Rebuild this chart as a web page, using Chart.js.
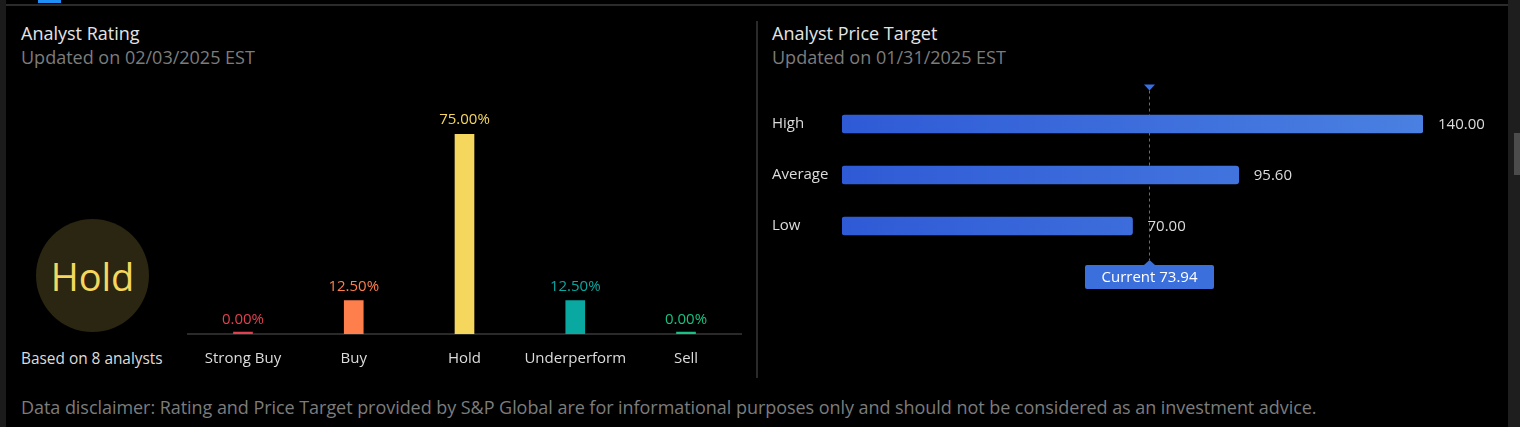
<!DOCTYPE html>
<html>
<head>
<meta charset="utf-8">
<script src="https://cdn.jsdelivr.net/npm/chart.js@4.4.1/dist/chart.umd.min.js"></script>
<style>
  body { margin: 0; background: #000; width: 1520px; height: 427px; overflow: hidden; position: relative; font-family: 'Open Sans', sans-serif; }
  .abs { position: absolute; white-space: nowrap; }
  .title { font-size: 18px; line-height: 24px; color: #e4e4e4; }
  .sub { font-size: 18px; line-height: 24px; color: #7c7c7c; }
  #leftStrip { left: 0; top: 0; width: 6px; height: 427px; background: #1b1b1b; }
  #topLine { left: 6px; top: 4px; width: 1502px; height: 2px; background: #2b2b2b; }
  #tab { left: 38px; top: 0; width: 23px; height: 3px; background: #1f8ef5; }
  #rightStrip { left: 1508px; top: 0; width: 12px; height: 427px; background: #1e1e1e; }
  #thumb { left: 1514px; top: 133px; width: 6px; height: 42px; background: #4c4c4c; }
  #divider { left: 756px; top: 21px; width: 2px; height: 357px; background: #2a2a2a; }
  #badge { left: 36px; top: 219px; width: 113px; height: 113px; border-radius: 50%; background: #2a2611;
           display: flex; align-items: center; justify-content: center; color: #f5d75e; font-size: 38px; }
  #based { left: 21px; top: 349px; font-size: 15.4px; line-height: 20px; color: #dcdcdc; }
  #disclaimer { left: 21px; top: 395px; font-size: 18px; line-height: 24px; color: #7c7c7c; letter-spacing: -0.05px; }
  canvas { position: absolute; }
</style>
</head>
<body>
<div class="abs" id="leftStrip"></div>
<div class="abs" id="topLine"></div>
<div class="abs" id="tab"></div>
<div class="abs" id="rightStrip"></div>
<div class="abs" id="thumb"></div>
<div class="abs" id="divider"></div>

<div class="abs title" style="left:21px; top:21px;">Analyst Rating</div>
<div class="abs sub" style="left:21px; top:45px;">Updated on 02/03/2025 EST</div>
<div class="abs title" style="left:772px; top:21px;">Analyst Price Target</div>
<div class="abs sub" style="left:772px; top:45px;">Updated on 01/31/2025 EST</div>

<div class="abs" id="badge">Hold</div>
<div class="abs" id="based"></div>

<canvas id="ratingChart" width="570" height="280" style="left:180px; top:100px;"></canvas>
<canvas id="targetChart" width="745" height="220" style="left:760px; top:80px;"></canvas>

<div class="abs" id="disclaimer">Data disclaimer: Rating and Price Target provided by S&amp;P Global are for informational purposes only and should not be considered as an investment advice.</div>

<script>
// datos
const ratingLabels = ['Strong Buy', 'Buy', 'Hold', 'Underperform', 'Sell'];
const ratingValues = [0, 12.5, 75, 12.5, 0];
const analystCount = 8;

const targetLabels = ['High', 'Average', 'Low'];
const targetValues = [140, 95.6, 70];
const currentPrice = 73.94;

// estilos
const ratingColors = ['#e2404f', '#ff7f4c', '#f5d75e', '#09a8a0', '#17c282'];
const blue = '#3b6fdc';

Chart.defaults.font.family = "'Open Sans', sans-serif";

document.getElementById('based').textContent = 'Based on ' + analystCount + ' analysts';

// etiquetas de porcentaje encima de cada barra
const percentLabels = {
    id: 'percentLabels',
    afterDatasetsDraw(chart) {
        const ctx = chart.ctx;
        const yScale = chart.scales.y;
        const meta = chart.getDatasetMeta(0);
        ctx.save();
        ctx.font = "15px 'Open Sans'";
        ctx.textAlign = 'center';
        ctx.textBaseline = 'middle';
        meta.data.forEach((bar, i) => {
            const top = yScale.getPixelForValue(ratingValues[i]);
            ctx.fillStyle = ratingColors[i];
            ctx.fillText(ratingValues[i].toFixed(2) + '%', bar.x, top - 14);
        });
        ctx.restore();
    }
};

new Chart(document.getElementById('ratingChart'), {
    type: 'bar',
    data: {
        labels: ratingLabels,
        datasets: [{
            data: ratingValues,
            backgroundColor: ratingColors,
            barThickness: 19,
            minBarLength: 2
        }]
    },
    options: {
        responsive: false,
        animation: false,
        layout: { padding: { left: 7.6, right: 8.6, top: 34, bottom: 0 } },
        plugins: { legend: { display: false }, tooltip: { enabled: false } },
        scales: {
            x: {
                grid: { display: false, drawTicks: false },
                border: { display: true, color: '#2a2a2a', width: 2 },
                ticks: { color: '#dcdcdc', font: { size: 15 }, padding: 16 },
                afterFit: (s) => { s.height = 46; }
            },
            y: { display: false, min: 0, max: Math.max(...ratingValues) }
        }
    },
    plugins: [percentLabels]
});

// valores a la derecha de cada barra
const valueLabels = {
    id: 'valueLabels',
    afterDatasetsDraw(chart) {
        const ctx = chart.ctx;
        const meta = chart.getDatasetMeta(0);
        ctx.save();
        ctx.font = "15px 'Open Sans'";
        ctx.textAlign = 'left';
        ctx.textBaseline = 'middle';
        ctx.fillStyle = '#dcdcdc';
        meta.data.forEach((bar, i) => {
            ctx.fillText(targetValues[i].toFixed(2), bar.x + 15, bar.y + 1);
        });
        ctx.restore();
    }
};

// línea punteada del precio actual
const currentLine = {
    id: 'currentLine',
    afterDatasetsDraw(chart) {
        const ctx = chart.ctx;
        const x = Math.round(chart.scales.x.getPixelForValue(currentPrice)) + 0.5;
        const area = chart.chartArea;
        const lineTop = area.top - 8;
        const lineBottom = area.bottom + 8.5;
        ctx.save();
        ctx.fillStyle = blue;
        ctx.strokeStyle = blue;
        // triángulo superior
        ctx.beginPath();
        ctx.moveTo(x - 5.5, lineTop - 6);
        ctx.lineTo(x + 5.5, lineTop - 6);
        ctx.lineTo(x, lineTop);
        ctx.closePath();
        ctx.fill();
        // línea
        ctx.lineWidth = 1;
        ctx.setLineDash([3, 3]);
        ctx.beginPath();
        ctx.moveTo(x, lineTop);
        ctx.lineTo(x, lineBottom);
        ctx.stroke();
        ctx.setLineDash([]);
        // triángulo inferior
        ctx.beginPath();
        ctx.moveTo(x - 5.5, lineBottom + 5);
        ctx.lineTo(x + 5.5, lineBottom + 5);
        ctx.lineTo(x, lineBottom);
        ctx.closePath();
        ctx.fill();
        // caja
        const boxW = 129, boxH = 24, boxTop = lineBottom + 5;
        ctx.beginPath();
        ctx.roundRect(x - boxW / 2, boxTop, boxW, boxH, 2);
        ctx.fill();
        ctx.fillStyle = '#ffffff';
        ctx.font = "15px 'Open Sans'";
        ctx.textAlign = 'center';
        ctx.textBaseline = 'middle';
        ctx.fillText('Current ' + currentPrice.toFixed(2), x, boxTop + boxH / 2 + 1);
        ctx.restore();
    }
};

new Chart(document.getElementById('targetChart'), {
    type: 'bar',
    data: {
        labels: targetLabels,
        datasets: [{
            data: targetValues,
            backgroundColor: function(context) {
                const area = context.chart.chartArea;
                if (!area) return blue;
                const g = context.chart.ctx.createLinearGradient(area.left, 0, area.right, 0);
                g.addColorStop(0, '#2f5ad6');
                g.addColorStop(1, '#4a80e1');
                return g;
            },
            barThickness: 18,
            borderRadius: 3,
            borderSkipped: false
        }]
    },
    options: {
        indexAxis: 'y',
        responsive: false,
        animation: false,
        layout: { padding: { left: 12, right: 82, top: 18.5, bottom: 48.5 } },
        plugins: { legend: { display: false }, tooltip: { enabled: false } },
        scales: {
            x: { display: false, min: 0, max: Math.max(...targetValues) },
            y: {
                grid: { display: false, drawTicks: false },
                border: { display: false },
                ticks: { color: '#dcdcdc', font: { size: 15 }, crossAlign: 'far', padding: 0 },
                afterFit: (s) => { s.width = 70; }
            }
        }
    },
    plugins: [valueLabels, currentLine]
});
</script>
</body>
</html>
